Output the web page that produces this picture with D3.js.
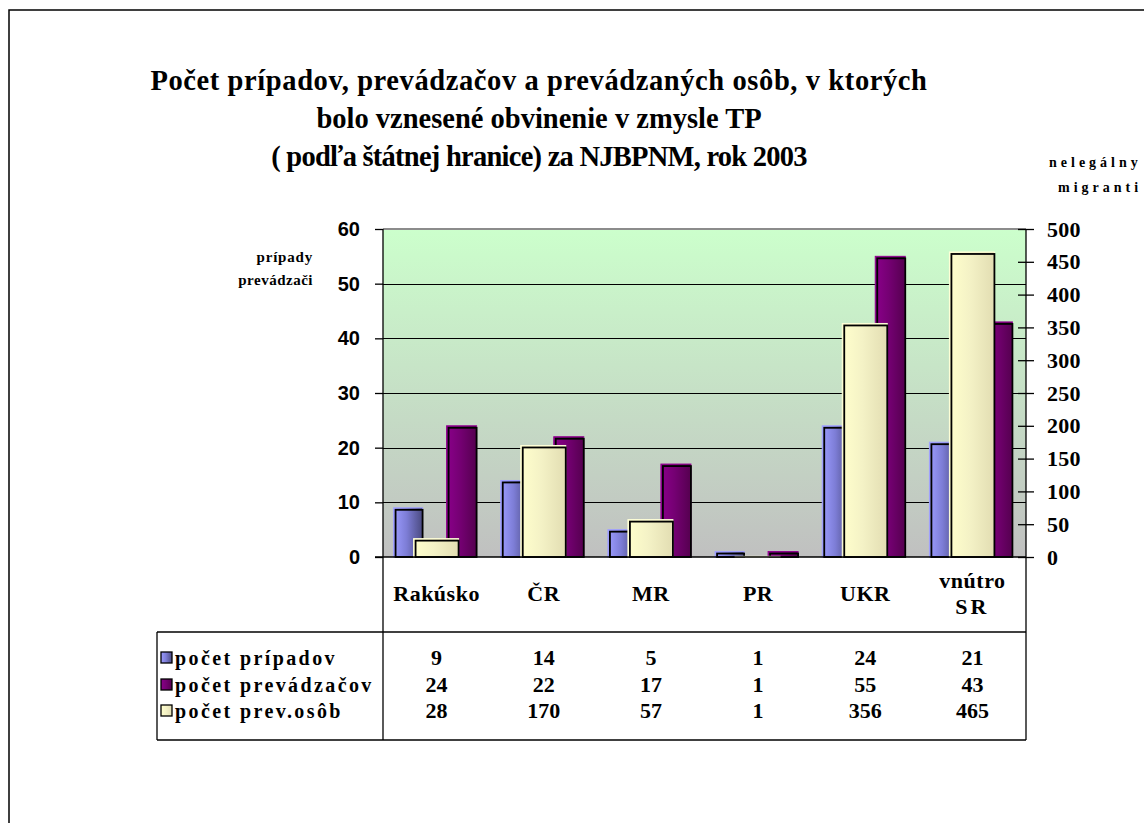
<!DOCTYPE html>
<head>
  <meta charset="utf-8">
  <!-- Load d3.js -->
  <script src="https://d3js.org/d3.v7.min.js"></script>
  <style>
    body { margin: 0; background: #fff; }
    text { font-family: "Liberation Serif", "Times New Roman", serif; font-weight: bold; fill: #000; }
  </style>
</head>

<body>
  <!-- Create a div where the graph will take place -->
  <div id="chart"></div>
</body>

<script>

// data
var categories = ["Rakúsko", "ČR", "MR", "PR", "UKR", "vnútro SR"];
var pripady = [9, 14, 5, 1, 24, 21];          // left axis
var prevadzaci = [24, 22, 17, 1, 55, 43];     // left axis
var osoby = [28, 170, 57, 1, 356, 465];       // right axis
var seriesNames = ["počet prípadov", "počet prevádzačov", "počet prev.osôb"];
var leftTicks = [0, 10, 20, 30, 40, 50, 60];
var rightTicks = [0, 50, 100, 150, 200, 250, 300, 350, 400, 450, 500];

var width = 1144, height = 823;
var plot = {left: 383, right: 1026, top: 229, bottom: 557};
var table = {left: 157, top: 632, bottom: 740};

var svg = d3.select("#chart")
  .append("svg")
    .attr("width", width)
    .attr("height", height);

var defs = svg.append("defs");

// plot background gradient
var bg = defs.append("linearGradient").attr("id", "bg")
  .attr("x1", 0).attr("y1", 0).attr("x2", 0).attr("y2", 1);
bg.append("stop").attr("offset", "0%").attr("stop-color", "#ccffcc");
bg.append("stop").attr("offset", "100%").attr("stop-color", "#c0c0c0");

// bar gradients (light left -> dark right)
function barGrad(id, c1, c2, c3) {
  var g = defs.append("linearGradient").attr("id", id)
    .attr("x1", 0).attr("y1", 0).attr("x2", 1).attr("y2", 0);
  g.append("stop").attr("offset", "0%").attr("stop-color", c1);
  g.append("stop").attr("offset", "45%").attr("stop-color", c2);
  g.append("stop").attr("offset", "100%").attr("stop-color", c3);
}
barGrad("gBlue", "#9c9cff", "#7d7dd6", "#4a4a80");
barGrad("gPurple", "#8a008a", "#750073", "#55004f");
barGrad("gYellow", "#ffffcc", "#f4f2c6", "#e2ddb2");

// outer frame
svg.append("rect")
  .attr("x", 9).attr("y", 10)
  .attr("width", width + 20).attr("height", height + 20)
  .attr("fill", "none").attr("stroke", "#000").attr("stroke-width", 1.5);

// scales
var x = d3.scaleBand()
  .domain(categories)
  .range([plot.left, plot.right])
  .padding(0);

var yL = d3.scaleLinear()
  .domain([0, 60])
  .range([plot.bottom, plot.top]);

var yR = d3.scaleLinear()
  .domain([0, 500])
  .range([plot.bottom, plot.top]);

// plot area
svg.append("rect")
  .attr("x", plot.left).attr("y", plot.top)
  .attr("width", plot.right - plot.left).attr("height", plot.bottom - plot.top)
  .attr("fill", "url(#bg)");

svg.append("line")
  .attr("x1", plot.left).attr("x2", plot.right)
  .attr("y1", plot.top).attr("y2", plot.top)
  .attr("stroke", "#8c8c8c").attr("stroke-width", 2);

// gridlines
svg.append("g")
  .selectAll("line")
  .data(leftTicks.filter(function(d) { return d > 0 && d < 60; }))
  .enter()
  .append("line")
    .attr("x1", plot.left).attr("x2", plot.right)
    .attr("y1", function(d) { return Math.round(yL(d)) + 0.5; })
    .attr("y2", function(d) { return Math.round(yL(d)) + 0.5; })
    .attr("stroke", "#000").attr("stroke-width", 1);

// bars
function center(c) { return x(c) + x.bandwidth() / 2; }

function drawBars(values, scale, dx0, dx1, grad, edge) {
  var g = svg.append("g");
  var rows = categories.map(function(c, i) { return {c: c, v: values[i]}; });
  g.selectAll("rect.fill")
    .data(rows)
    .enter()
    .append("rect")
      .attr("x", function(d) { return center(d.c) + dx0; })
      .attr("y", function(d) { return scale(d.v); })
      .attr("width", dx1 - dx0)
      .attr("height", function(d) { return plot.bottom - scale(d.v); })
      .attr("fill", "url(#" + grad + ")")
      .attr("stroke", edge).attr("stroke-width", 1);
  g.selectAll("rect.edge")
    .data(rows)
    .enter()
    .append("rect")
      .attr("x", function(d) { return center(d.c) + dx0 + 2; })
      .attr("y", function(d) { return scale(d.v) + 2; })
      .attr("width", dx1 - dx0 - 2)
      .attr("height", function(d) { return Math.max(0, plot.bottom - scale(d.v) - 2); })
      .attr("fill", "none")
      .attr("stroke", "#000").attr("stroke-width", 1.8);
}

drawBars(pripady, yL, -43, -14, "gBlue", "#a0a0ff");
drawBars(prevadzaci, yL, 10, 40, "gPurple", "#90008f");
drawBars(osoby, yR, -23, 22, "gYellow", "#ffffd8");

// axis lines + table frame
var frame = svg.append("g").attr("stroke", "#000").attr("stroke-width", 1.3);
frame.append("line").attr("x1", plot.left).attr("x2", plot.left).attr("y1", plot.top).attr("y2", table.bottom);
frame.append("line").attr("x1", plot.right).attr("x2", plot.right).attr("y1", plot.top).attr("y2", table.bottom);
frame.append("line").attr("x1", plot.left - 8).attr("x2", plot.right).attr("y1", plot.bottom).attr("y2", plot.bottom);
frame.append("line").attr("x1", table.left).attr("x2", plot.right).attr("y1", table.top).attr("y2", table.top);
frame.append("line").attr("x1", table.left).attr("x2", plot.right).attr("y1", table.bottom).attr("y2", table.bottom);
frame.append("line").attr("x1", table.left).attr("x2", table.left).attr("y1", table.top).attr("y2", table.bottom);

// left axis
var leftAxis = svg.append("g")
  .attr("transform", "translate(" + plot.left + ",0)")
  .call(d3.axisLeft(yL).tickValues(leftTicks).tickSize(8).tickPadding(15));
leftAxis.select(".domain").remove();
leftAxis.selectAll("line").attr("stroke", "#000").attr("stroke-width", 1.3);
leftAxis.selectAll("text")
  .style("font-family", "Arial, 'Liberation Sans', sans-serif")
  .style("font-size", "20px").style("font-weight", "bold");

// right axis
var rightAxis = svg.append("g")
  .attr("transform", "translate(" + plot.right + ",0)")
  .call(d3.axisRight(yR).tickValues(rightTicks).tickSize(8).tickPadding(13));
rightAxis.select(".domain").remove();
rightAxis.selectAll("line").attr("x1", -8).attr("stroke", "#000").attr("stroke-width", 1.3);
rightAxis.selectAll("text")
  .style("font-family", "'Liberation Serif', serif")
  .style("font-size", "22px").style("font-weight", "bold")
  .style("letter-spacing", "0.3px");

// category labels
svg.append("g")
  .selectAll("text")
  .data(categories)
  .enter()
  .append("text")
    .attr("x", function(d) { return center(d); })
    .attr("y", 601)
    .attr("text-anchor", "middle")
    .style("font-size", "22px")
    .style("letter-spacing", "0.5px")
    .each(function(d) {
      var t = d3.select(this);
      var parts = d.split(" ");
      if (parts.length > 1) {
        t.append("tspan").attr("x", center(d)).attr("y", 588).text(parts[0]);
        t.append("tspan").attr("x", center(d)).attr("y", 614)
          .style("letter-spacing", "3px").text(parts[1]);
      } else {
        t.text(d);
      }
    });

// data table rows
var rowsY = [665, 692, 718];
var rowData = [pripady, prevadzaci, osoby];
var grads = ["gBlue", "gPurple", "gYellow"];

rowData.forEach(function(vals, r) {
  svg.append("rect")
    .attr("x", 161).attr("y", rowsY[r] - 13)
    .attr("width", 11).attr("height", 11)
    .attr("fill", "url(#" + grads[r] + ")")
    .attr("stroke", "#000").attr("stroke-width", 1.3);
  svg.append("text")
    .attr("x", 175).attr("y", rowsY[r])
    .style("font-size", "20px")
    .style("letter-spacing", "2.4px")
    .text(seriesNames[r]);
  svg.append("g")
    .selectAll("text")
    .data(vals)
    .enter()
    .append("text")
      .attr("x", function(d, i) { return center(categories[i]); })
      .attr("y", rowsY[r])
      .attr("text-anchor", "middle")
      .style("font-size", "22px")
      .text(function(d) { return d; });
});

// axis titles
svg.append("text")
  .attr("x", 313).attr("y", 262)
  .attr("text-anchor", "end")
  .style("font-size", "15px").style("letter-spacing", "0.8px")
  .text("prípady");
svg.append("text")
  .attr("x", 313).attr("y", 285)
  .attr("text-anchor", "end")
  .style("font-size", "15px").style("letter-spacing", "0.5px")
  .text("prevádzači");

svg.append("text")
  .attr("x", 1049).attr("y", 167)
  .style("font-size", "14px").style("letter-spacing", "4px")
  .text("nelegálny");
svg.append("text")
  .attr("x", 1058).attr("y", 192)
  .style("font-size", "14px").style("letter-spacing", "4px")
  .text("migranti");

// title
var titleLines = [
  "Počet prípadov, prevádzačov a prevádzaných osôb, v ktorých",
  "bolo vznesené obvinenie v zmysle TP",
  "( podľa štátnej hranice) za NJBPNM, rok 2003"
];
var titleSpacing = [0.6, 0, -0.75];
svg.append("g")
  .selectAll("text")
  .data(titleLines)
  .enter()
  .append("text")
    .attr("x", 539)
    .attr("y", function(d, i) { return 90 + i * 38; })
    .attr("text-anchor", "middle")
    .style("font-size", "28.5px")
    .style("letter-spacing", function(d, i) { return titleSpacing[i] + "px"; })
    .text(function(d) { return d; });

</script>
